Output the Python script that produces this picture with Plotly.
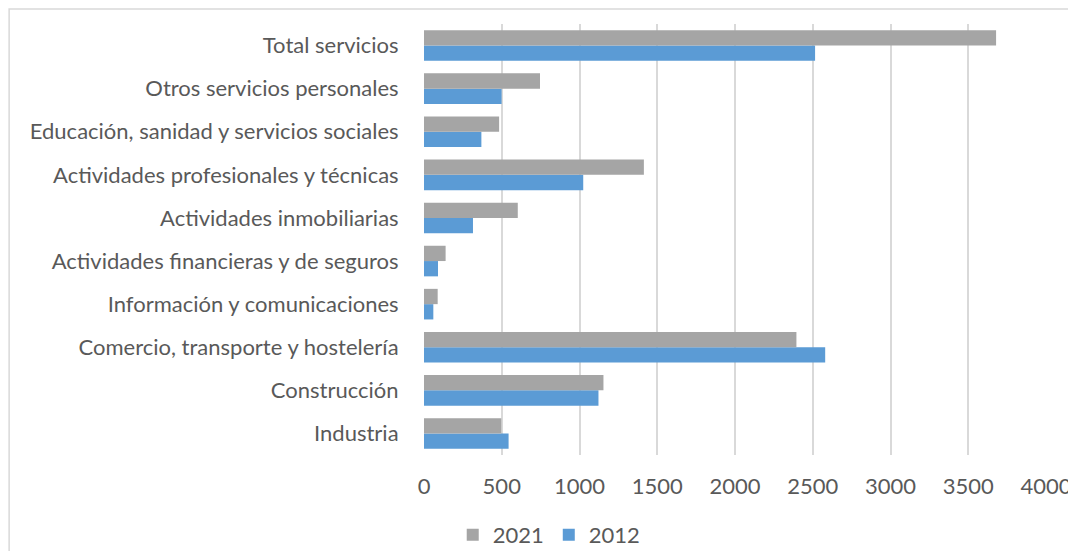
import plotly.graph_objects as go

categories = [
    "Industria",
    "Construcción",
    "Comercio, transporte y hostelería",
    "Información y comunicaciones",
    "Actividades financieras y de seguros",
    "Actividades inmobiliarias",
    "Actividades profesionales y técnicas",
    "Educación, sanidad y servicios sociales",
    "Otros servicios personales",
    "Total servicios",
]
values_2021 = [497, 1154, 2395, 88, 139, 603, 1414, 483, 746, 3679]
values_2012 = [544, 1122, 2580, 60, 90, 315, 1024, 369, 499, 2515]
x_ticks = [0, 500, 1000, 1500, 2000, 2500, 3000, 3500, 4000]

FONT = "Lato"
TXT = "#595959"

fig = go.Figure()
fig.add_trace(go.Bar(y=categories, x=values_2012, orientation="h", name="2012",
                     marker=dict(color="#5B9BD5", line=dict(color="#5B9BD5", width=0))))
fig.add_trace(go.Bar(y=categories, x=values_2021, orientation="h", name="2021",
                     marker=dict(color="#A5A5A5", line=dict(color="#A5A5A5", width=0))))

fig.update_layout(
    width=1076, height=551,
    margin=dict(l=416, r=38, t=16, b=104),
    paper_bgcolor="white", plot_bgcolor="white",
    barmode="group", bargap=0.29, bargroupgap=0,
    font=dict(family=FONT, size=22, color=TXT),
    showlegend=True,
    legend=dict(orientation="h", xref="container", yref="container",
                x=0.503, y=0.0436, xanchor="center", yanchor="middle",
                traceorder="reversed", font=dict(family=FONT, size=22, color=TXT),
                bgcolor="rgba(0,0,0,0)", itemsizing="constant", itemwidth=30),
    xaxis=dict(range=[0, 4000], tickvals=x_ticks, showgrid=True, gridcolor="#D9D9D9",
               gridwidth=1.5, zeroline=False, showline=False, ticks="outside",
               ticklen=0, ticklabelstandoff=12, automargin=False,
               tickfont=dict(family=FONT, size=22, color=TXT)),
    yaxis=dict(showgrid=False, zeroline=False, showline=False, ticks="outside", ticklen=0,
               ticklabelstandoff=20, automargin=False,
               tickfont=dict(family=FONT, size=22, color=TXT)),
    shapes=[dict(type="rect", xref="paper", yref="paper", x0=-0.667, x1=1.1, y0=-0.3, y1=1.035,
                 line=dict(color="#D9D9D9", width=1.5), fillcolor="rgba(0,0,0,0)", layer="below")],
)

fig.write_html("out.html")
